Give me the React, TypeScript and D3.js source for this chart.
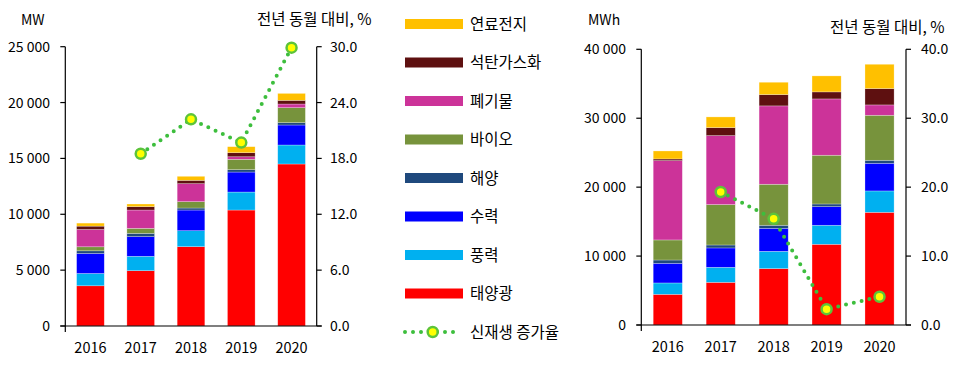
import React from "react";
import * as d3 from "d3";

const years = ["2016", "2017", "2018", "2019", "2020"];
const seriesNames = ["태양광", "풍력", "수력", "해양", "바이오", "폐기물", "석탄가스화", "연료전지"];
const seriesColors = ["#FF0000", "#00B0F0", "#0000FF", "#1F497D", "#77933C", "#CC3399", "#5E1010", "#FFC000"];

// Left chart: capacity, MW
const mwSolar = [3600, 4950, 7100, 10380, 14500];
const mwWind = [1100, 1290, 1430, 1610, 1700];
const mwHydro = [1790, 1760, 1850, 1790, 1790];
const mwOcean = [240, 290, 180, 210, 210];
const mwBio = [360, 450, 570, 930, 1340];
const mwWaste = [1550, 1640, 1610, 230, 330];
const mwIgcc = [300, 300, 300, 360, 330];
const mwFuelCell = [270, 240, 360, 540, 620];
const mwGrowth: (number | null)[] = [null, 18.5, 22.2, 19.7, 29.9];

// Right chart: generation, MWh
const mwhSolar = [4450, 6190, 8180, 11710, 16350];
const mwhWind = [1650, 2180, 2510, 2760, 3100];
const mwhHydro = [2850, 2810, 3340, 2700, 4010];
const mwhOcean = [480, 430, 440, 390, 440];
const mwhBio = [2910, 5860, 5950, 7070, 6530];
const mwhWaste = [11510, 10010, 11370, 8170, 1500];
const mwhIgcc = [240, 1160, 1640, 1020, 2370];
const mwhFuelCell = [1160, 1550, 1790, 2320, 3530];
const mwhGrowth: (number | null)[] = [null, 19.3, 15.4, 2.3, 4.1];

const leftTicks = [0, 5000, 10000, 15000, 20000, 25000];
const leftPctTicks = [0, 6, 12, 18, 24, 30];
const rightTicks = [0, 10000, 20000, 30000, 40000];
const rightPctTicks = [0, 10, 20, 30, 40];

const FONT = "'Noto Sans CJK KR', 'Noto Sans', sans-serif";
const fmtK = (v: number) => (v >= 1000 ? `${Math.floor(v / 1000)} ${String(v % 1000).padStart(3, "0")}` : String(v));
const fmtP = (v: number) => v.toFixed(1);

type ChartProps = {
  x0: number; x1: number; y0: number; y1: number;
  series: number[][]; growth: (number | null)[];
  yMax: number; yTicks: number[]; pMax: number; pTicks: number[];
  leftLabelX: number; rightLabelX: number;
};

function Chart(p: ChartProps) {
  const x = d3.scaleBand<string>().domain(years).range([p.x0, p.x1]).paddingInner(0.45).paddingOuter(0.225);
  const y = d3.scaleLinear().domain([0, p.yMax]).range([p.y1, p.y0]);
  const yp = d3.scaleLinear().domain([0, p.pMax]).range([p.y1, p.y0]);
  const rows = years.map((yr, i) => {
    const o: any = { year: yr };
    seriesNames.forEach((s, k) => (o[s] = p.series[k][i]));
    return o;
  });
  const stacked = d3.stack<any>().keys(seriesNames)(rows);
  const pts = years
    .map((yr, i) => ({ yr, v: p.growth[i] }))
    .filter((d) => d.v !== null) as { yr: string; v: number }[];
  const line = d3
    .line<{ yr: string; v: number }>()
    .x((d) => (x(d.yr) as number) + x.bandwidth() / 2)
    .y((d) => yp(d.v));
  return (
    <g>
      {stacked.map((layer, k) => (
        <g key={k} fill={seriesColors[k]}>
          {layer.map((d, i) => (
            <rect
              key={i}
              x={x(years[i])}
              width={x.bandwidth()}
              y={y(d[1])}
              height={Math.max(0, y(d[0]) - y(d[1]))}
              stroke="#ffffff"
              strokeOpacity={0.45}
              strokeWidth={0.6}
            />
          ))}
        </g>
      ))}
      {/* axes */}
      <line x1={p.x0} x2={p.x0} y1={p.y0} y2={p.y1 + 6} stroke="#000" strokeWidth={1.2} />
      <line x1={p.x1} x2={p.x1} y1={p.y0} y2={p.y1} stroke="#000" strokeWidth={1.2} />
      <line x1={p.x0 - 5} x2={p.x1 + 5} y1={p.y1} y2={p.y1} stroke="#000" strokeWidth={1.2} />
      {p.yTicks.map((t) => (
        <g key={"l" + t}>
          <line x1={p.x0 - 5} x2={p.x0} y1={y(t)} y2={y(t)} stroke="#000" strokeWidth={1.2} />
          <text x={p.leftLabelX} y={y(t) + 5} textAnchor="end" fontSize={14} fontFamily={FONT} fill="#000">
            {fmtK(t)}
          </text>
        </g>
      ))}
      {p.pTicks.map((t) => (
        <g key={"r" + t}>
          <line x1={p.x1} x2={p.x1 + 5} y1={yp(t)} y2={yp(t)} stroke="#000" strokeWidth={1.2} />
          <text x={p.rightLabelX} y={yp(t) + 5} textAnchor="start" fontSize={14} fontFamily={FONT} fill="#000">
            {fmtP(t)}
          </text>
        </g>
      ))}
      {years.map((yr) => (
        <text key={yr} x={(x(yr) as number) + x.bandwidth() / 2} y={p.y1 + 27} textAnchor="middle" fontSize={14.5} fontFamily={FONT} fill="#000">
          {yr}
        </text>
      ))}
      <path d={line(pts) || ""} fill="none" stroke="#3DBE3D" strokeWidth={4} strokeDasharray="0 8" strokeLinecap="round" />
      {pts.map((d) => (
        <circle key={d.yr} cx={(x(d.yr) as number) + x.bandwidth() / 2} cy={yp(d.v)} r={5} fill="#FFFF00" stroke="#5CC43A" strokeWidth={2.5} />
      ))}
    </g>
  );
}

export default function App() {
  const legendItems = [...seriesNames].reverse().map((n) => ({ n, c: seriesColors[seriesNames.indexOf(n)] }));
  const legendY = (i: number) => 24 + i * 38.5;
  return (
    <svg width={964} height={369} style={{ position: "absolute", left: 0, top: 0, background: "#fff" }}>
      <Chart
        x0={65.3} x1={316.7} y0={46.7} y1={326}
        series={[mwSolar, mwWind, mwHydro, mwOcean, mwBio, mwWaste, mwIgcc, mwFuelCell]}
        growth={mwGrowth} yMax={25000} yTicks={leftTicks} pMax={30} pTicks={leftPctTicks}
        leftLabelX={50} rightLabelX={330}
      />
      <Chart
        x0={641.3} x1={906} y0={49.3} y1={325}
        series={[mwhSolar, mwhWind, mwhHydro, mwhOcean, mwhBio, mwhWaste, mwhIgcc, mwhFuelCell]}
        growth={mwhGrowth} yMax={40000} yTicks={rightTicks} pMax={40} pTicks={rightPctTicks}
        leftLabelX={626} rightLabelX={921}
      />
      <text x={21} y={25} fontSize={14} fontFamily={FONT}>MW</text>
      <text x={257} y={25} fontSize={15.5} fontFamily={FONT}>전년 동월 대비, %</text>
      <text x={588} y={25} fontSize={14} fontFamily={FONT}>MWh</text>
      <text x={830} y={33} fontSize={15.5} fontFamily={FONT}>전년 동월 대비, %</text>
      {legendItems.map((it, i) => (
        <g key={it.n}>
          <rect x={405} y={legendY(i) - 5} width={58} height={10} fill={it.c} />
          <text x={470} y={legendY(i) + 5.5} fontSize={15.5} fontFamily={FONT}>{it.n}</text>
        </g>
      ))}
      <g>
        <line x1={405} x2={457} y1={legendY(8)} y2={legendY(8)} stroke="#3DBE3D" strokeWidth={4} strokeDasharray="0 8" strokeLinecap="round" />
        <circle cx={432.7} cy={legendY(8)} r={5} fill="#FFFF00" stroke="#5CC43A" strokeWidth={2.5} />
        <text x={470} y={legendY(8) + 5.5} fontSize={15.5} fontFamily={FONT}>신재생 증가율</text>
      </g>
    </svg>
  );
}
